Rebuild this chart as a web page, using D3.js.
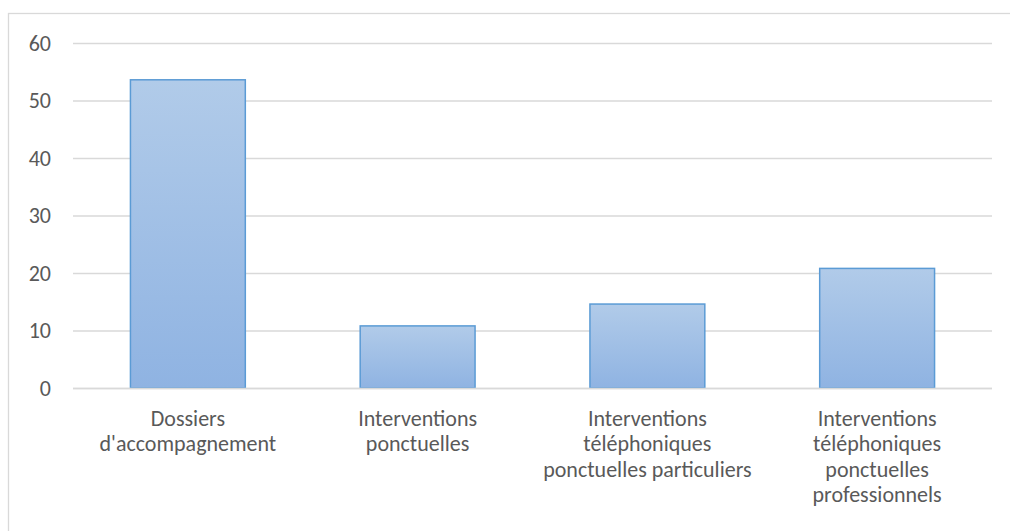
<!DOCTYPE html>
<html>
<head>
<meta charset="utf-8">
<script src="https://cdn.jsdelivr.net/npm/d3@7"></script>
<style>
  html, body { margin: 0; padding: 0; background: #fff; }
  svg { display: block; }
  text { font-family: Calibri, Carlito, Lato, "Open Sans", sans-serif; fill: #595959; }
</style>
</head>
<body>
<svg id="chart" width="1010" height="531"></svg>
<script>
// Category labels (each entry is a list of wrapped lines)
const categories = [
  ["Dossiers", "d'accompagnement"],
  ["Interventions", "ponctuelles"],
  ["Interventions", "téléphoniques", "ponctuelles particuliers"],
  ["Interventions", "téléphoniques", "ponctuelles", "professionnels"]
];
const values = [53.6, 10.8, 14.6, 20.8];
const yTicks = [0, 10, 20, 30, 40, 50, 60];

const svg = d3.select("#chart");
const W = 1010, H = 531;
const FONT = "Calibri, Carlito, Lato, 'Open Sans', sans-serif";

// Outer chart frame
svg.append("rect")
  .attr("x", 8.5).attr("y", 13.5)
  .attr("width", W + 10).attr("height", H + 10)
  .attr("fill", "none").attr("stroke", "#D9D9D9").attr("stroke-width", 1.3);

const plot = { left: 73, right: 992, top: 43, bottom: 388 };

const x = d3.scaleBand()
  .domain(d3.range(categories.length))
  .range([plot.left, plot.right])
  .paddingInner(0.5).paddingOuter(0.25);

const y = d3.scaleLinear().domain([0, 60]).range([plot.bottom, plot.top]);

// Bar gradient
const defs = svg.append("defs");
const grad = defs.append("linearGradient")
  .attr("id", "barGrad").attr("x1", 0).attr("y1", 0).attr("x2", 0).attr("y2", 1);
grad.append("stop").attr("offset", "0%").attr("stop-color", "#B1CBE9");
grad.append("stop").attr("offset", "100%").attr("stop-color", "#8FB3E2");

// Gridlines and value axis labels
const yAxis = d3.axisLeft(y).tickValues(yTicks).tickSize(-(plot.right - plot.left)).tickPadding(22);
const gy = svg.append("g").attr("transform", `translate(${plot.left},0)`).call(yAxis);
gy.select(".domain").remove();
gy.selectAll(".tick line").attr("stroke", "#D9D9D9").attr("stroke-width", 1.3);
gy.selectAll(".tick text")
  .style("font-size", "22px").attr("fill", "#595959")
  .style("font-family", FONT);

// Bars
svg.append("g").selectAll("rect")
  .data(values)
  .join("rect")
  .attr("x", (d, i) => x(i))
  .attr("y", d => y(d))
  .attr("width", x.bandwidth())
  .attr("height", d => y(0) - y(d))
  .attr("fill", "url(#barGrad)")
  .attr("stroke", "#5B9BD5")
  .attr("stroke-width", 1.5);

// Baseline
svg.append("line")
  .attr("x1", plot.left).attr("x2", plot.right)
  .attr("y1", y(0) + 0.5).attr("y2", y(0) + 0.5)
  .attr("stroke", "#D9D9D9").attr("stroke-width", 1.3);

// Category labels
const lab = svg.append("g").selectAll("text")
  .data(categories)
  .join("text")
  .attr("x", (d, i) => x(i) + x.bandwidth() / 2)
  .attr("y", 426)
  .attr("text-anchor", "middle")
  .style("font-size", "22px");
lab.selectAll("tspan")
  .data(d => d)
  .join("tspan")
  .attr("x", function () { return this.parentNode.getAttribute("x"); })
  .attr("dy", (d, i) => i === 0 ? 0 : 25.3)
  .text(d => d);
</script>
</body>
</html>
